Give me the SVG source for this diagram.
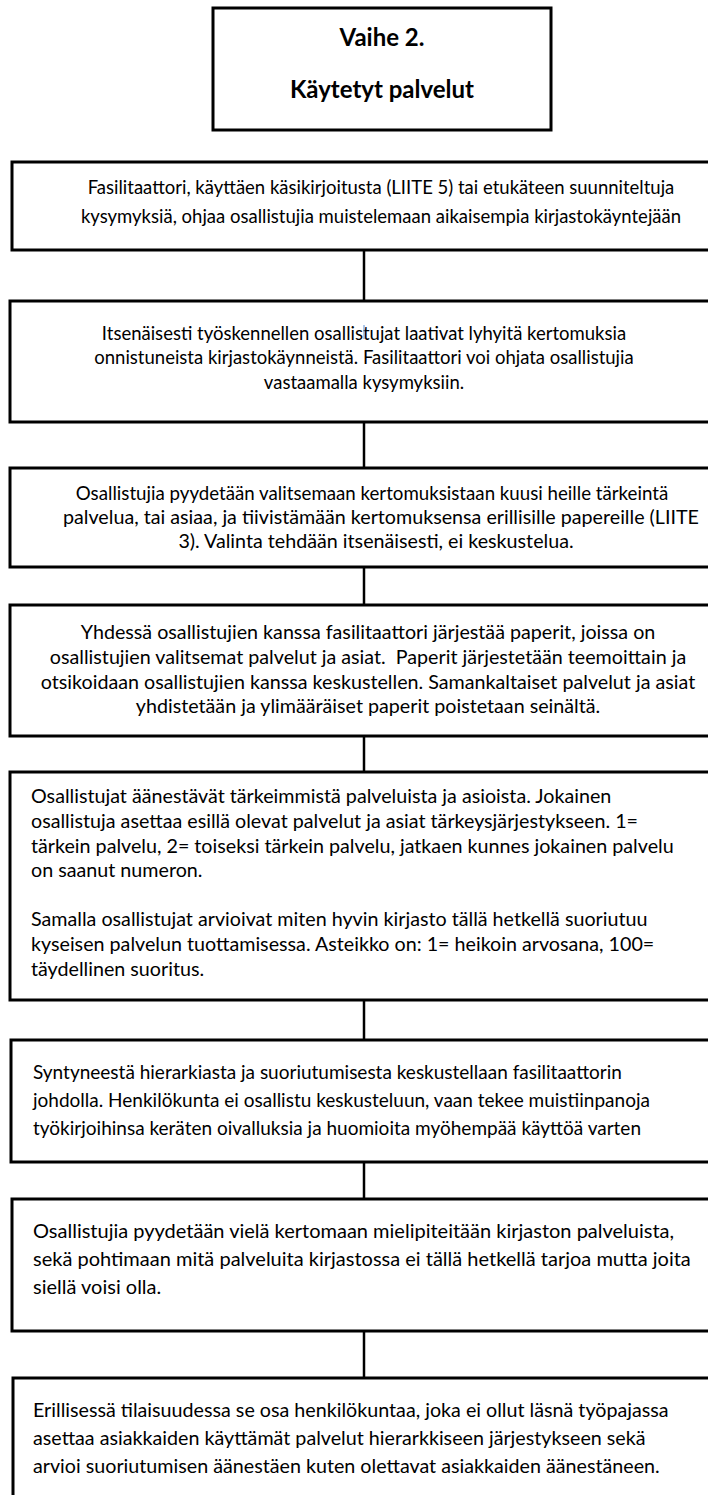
<svg xmlns="http://www.w3.org/2000/svg" width="708" height="1495" viewBox="0 0 708 1495">
<style>
.box{fill:#fff;stroke:#000;stroke-width:3}
.con{stroke:#000;stroke-width:2.5;fill:none}
text{font-family:Lato,"Open Sans","Liberation Sans",sans-serif;font-size:19.7px;fill:#000}
.s{font-size:18.5px}
.m{font-size:19px}
.l{font-size:20px}
.n{font-size:18.7px}
.c{text-anchor:middle}
.t{font-weight:bold;font-size:24px;text-anchor:middle}
</style>
<rect width="708" height="1495" fill="#fff"/>
<g id="connectors">
<line class="con" x1="364" y1="250" x2="364" y2="301"/>
<line class="con" x1="364" y1="422" x2="364" y2="468"/>
<line class="con" x1="364" y1="567" x2="364" y2="605"/>
<line class="con" x1="364" y1="736" x2="364" y2="772"/>
<line class="con" x1="364" y1="1000" x2="364" y2="1040"/>
<line class="con" x1="364" y1="1162" x2="364" y2="1199"/>
<line class="con" x1="364" y1="1331" x2="364" y2="1378"/>
</g>
<g id="title">
<rect class="box" x="213" y="8" width="338" height="122"/>
<text class="t" x="382" y="46">Vaihe 2.</text>
<text class="t" x="382" y="98">Käytetyt palvelut</text>
</g>
<g id="step1">
<rect class="box" x="12" y="162" width="710" height="88"/>
<text class="c s" x="381" y="194">Fasilitaattori, käyttäen käsikirjoitusta (LIITE 5) tai etukäteen suunniteltuja</text>
<text class="c s" x="381" y="223">kysymyksiä, ohjaa osallistujia muistelemaan aikaisempia kirjastokäyntejään</text>
</g>
<g id="step2">
<rect class="box" x="10" y="301" width="712" height="121"/>
<text class="c s" x="364" y="340">Itsenäisesti työskennellen osallistujat laativat lyhyitä kertomuksia</text>
<text class="c s" x="364" y="364">onnistuneista kirjastokäynneistä. Fasilitaattori voi ohjata osallistujia</text>
<text class="c s" x="364" y="389">vastaamalla kysymyksiin.</text>
<line x1="364" y1="325" x2="364" y2="339" stroke="#5b8fd6" stroke-width="1"/>
</g>
<g id="step3">
<rect class="box" x="10" y="468" width="712" height="99"/>
<text class="c n" x="372" y="500">Osallistujia pyydetään valitsemaan kertomuksistaan kuusi heille tärkeintä</text>
<text class="c" x="381" y="524">palvelua, tai asiaa, ja tiivistämään kertomuksensa erillisille papereille (LIITE</text>
<text class="c" x="376" y="548">3). Valinta tehdään itsenäisesti, ei keskustelua.</text>
</g>
<g id="step4">
<rect class="box" x="10" y="605" width="712" height="131"/>
<text class="c" x="368" y="639">Yhdessä osallistujien kanssa fasilitaattori järjestää paperit, joissa on</text>
<text class="c" x="368" y="664" xml:space="preserve">osallistujien valitsemat palvelut ja asiat.  Paperit järjestetään teemoittain ja</text>
<text class="c" x="368" y="689">otsikoidaan osallistujien kanssa keskustellen. Samankaltaiset palvelut ja asiat</text>
<text class="c" x="368" y="713">yhdistetään ja ylimääräiset paperit poistetaan seinältä.</text>
</g>
<g id="step5">
<rect class="box" x="10" y="772" width="712" height="228"/>
<text x="31" y="803">Osallistujat äänestävät tärkeimmistä palveluista ja asioista. Jokainen</text>
<text x="31" y="828">osallistuja asettaa esillä olevat palvelut ja asiat tärkeysjärjestykseen. 1=</text>
<text x="31" y="853">tärkein palvelu, 2= toiseksi tärkein palvelu, jatkaen kunnes jokainen palvelu</text>
<text x="31" y="877">on saanut numeron.</text>
<text x="31" y="926">Samalla osallistujat arvioivat miten hyvin kirjasto tällä hetkellä suoriutuu</text>
<text x="31" y="951">kyseisen palvelun tuottamisessa. Asteikko on: 1= heikoin arvosana, 100=</text>
<text x="31" y="976">täydellinen suoritus.</text>
</g>
<g id="step6">
<rect class="box" x="11" y="1040" width="711" height="122"/>
<text class="m" x="33" y="1079">Syntyneestä hierarkiasta ja suoriutumisesta keskustellaan fasilitaattorin</text>
<text class="m" x="33" y="1107">johdolla. Henkilökunta ei osallistu keskusteluun, vaan tekee muistiinpanoja</text>
<text class="m" x="33" y="1135">työkirjoihinsa keräten oivalluksia ja huomioita myöhempää käyttöä varten</text>
</g>
<g id="step7">
<rect class="box" x="12" y="1199" width="710" height="132"/>
<text class="l" x="33" y="1238">Osallistujia pyydetään vielä kertomaan mielipiteitään kirjaston palveluista,</text>
<text class="l" x="33" y="1266">sekä pohtimaan mitä palveluita kirjastossa ei tällä hetkellä tarjoa mutta joita</text>
<text class="l" x="33" y="1294">siellä voisi olla.</text>
</g>
<g id="step8">
<rect class="box" x="13" y="1378" width="709" height="140"/>
<text x="33" y="1417">Erillisessä tilaisuudessa se osa henkilökuntaa, joka ei ollut läsnä työpajassa</text>
<text x="33" y="1445">asettaa asiakkaiden käyttämät palvelut hierarkkiseen järjestykseen sekä</text>
<text x="33" y="1473">arvioi suoriutumisen äänestäen kuten olettavat asiakkaiden äänestäneen.</text>
</g>
</svg>
